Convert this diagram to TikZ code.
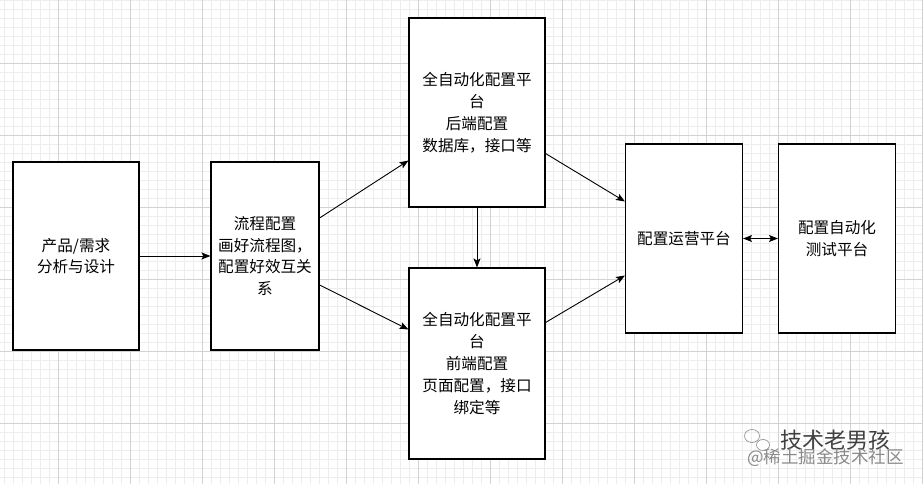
\documentclass[tikz,border=0pt]{standalone}
\usepackage{fontspec}
\setmainfont{Noto Sans CJK SC}
\newfontfamily\cjk{Noto Sans CJK SC}
\usetikzlibrary{arrows.meta,shapes.geometric}
\definecolor{minorg}{HTML}{EDEDED}
\definecolor{majorg}{HTML}{D2D2D2}
\definecolor{wmgray}{HTML}{8A8A8A}
\tikzset{
  box/.style={draw=black, line width=1.1pt, fill=white, align=center,
    inner sep=0pt, font=\cjk\fontsize{15.6}{21.8}\selectfont},
  conn/.style={line width=0.9pt, -{Stealth[length=9pt,width=7pt,inset=2pt]}},
  dconn/.style={line width=0.9pt, {Stealth[length=9pt,width=7pt,inset=2pt]}-{Stealth[length=9pt,width=7pt,inset=2pt]}},
}
\begin{document}
\begin{tikzpicture}[x=1pt,y=-1pt]
\useasboundingbox (0,0) rectangle (923,484);
\fill[white] (0,0) rectangle (923,484);
% grid
\foreach \x in {4,13,...,922} \draw[minorg, line width=0.6pt] (\x,0) -- (\x,484);
\foreach \y in {0,9,...,483} \draw[minorg, line width=0.6pt] (0,\y) -- (923,\y);
\foreach \x in {58,130,...,922} \draw[majorg, line width=0.7pt] (\x,0) -- (\x,484);
\foreach \y in {63,135,...,483} \draw[majorg, line width=0.7pt] (0,\y) -- (923,\y);
% boxes
\node[box, minimum width=126pt, minimum height=188pt] (n1) at (76,256) {产品/需求\\分析与设计};
\node[box, minimum width=108pt, minimum height=188pt] (n2) at (265,256) {流程配置\\画好流程图，\\配置好效互关\\系};
\node[box, minimum width=136pt, minimum height=189pt] (n3) at (477,112.5) {全自动化配置平\\台\\后端配置\\数据库，接口等};
\node[box, minimum width=136pt, minimum height=191pt] (n4) at (477,363.5) {全自动化配置平\\台\\前端配置\\页面配置，接口\\绑定等};
\node[box, minimum width=117pt, minimum height=189pt] (n5) at (684,238.5) {配置运营平台};
\node[box, minimum width=117pt, minimum height=189pt] (n6) at (837,238.5) {配置自动化\\测试平台};
% connectors
\draw[conn] (n1.east) -- (n2.west);
\draw[conn] ([yshift=38pt]n2.east) -- ([yshift=-48pt]n3.west);
\draw[conn] ([yshift=-29pt]n2.east) -- ([yshift=34pt]n4.west);
\draw[conn] (n3.south) -- (n4.north);
\draw[conn] ([yshift=-41pt]n3.east) -- ([yshift=37pt]n5.west);
\draw[conn] ([yshift=41pt]n4.east) -- ([yshift=-37pt]n5.west);
\draw[dconn] (n5.east) -- (n6.west);
% watermark
\node[draw=wmgray, line width=0.6pt, ellipse, minimum width=15pt, minimum height=13pt, inner sep=0pt] (wc1) at (752,436) {};
\node[draw=wmgray, line width=0.6pt, fill=white, ellipse, minimum width=13pt, minimum height=11pt, inner sep=0pt] (wc2) at (763,445) {};
\node[text=black!75, font=\cjk\fontsize{22}{22}\selectfont, anchor=west, inner sep=0pt] (wm1) at (780,440) {技术老男孩};
\node[text=wmgray, font=\cjk\fontsize{17.5}{18}\selectfont, anchor=west, inner sep=0pt] (wm2) at (747,458) {@稀土掘金技术社区};
\end{tikzpicture}
\end{document}
